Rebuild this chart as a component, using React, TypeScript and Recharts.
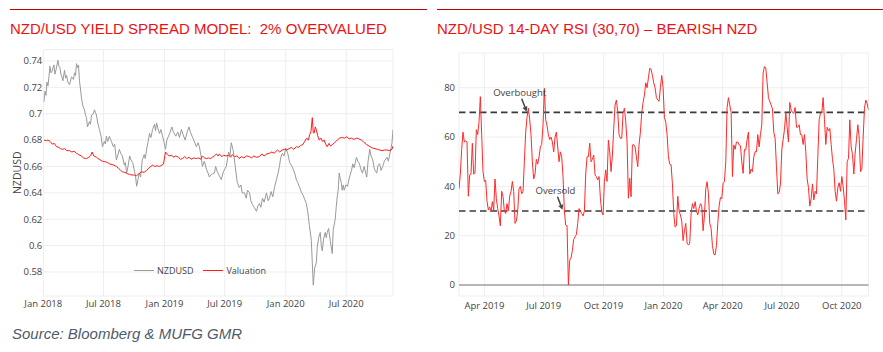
import React from 'react';
import {
  LineChart,
  Line,
  XAxis,
  YAxis,
  CartesianGrid,
  ReferenceLine,
  ReferenceDot,
  Legend,
} from 'recharts';

// ---- left panel: NZDUSD vs yield-spread valuation ----
const nzdusdDates = [
  '2018-01-03', '2018-01-06', '2018-01-09', '2018-01-12', '2018-01-15', '2018-01-18', '2018-01-21', '2018-01-24',
  '2018-01-27', '2018-02-02', '2018-02-05', '2018-02-08', '2018-02-14', '2018-02-17', '2018-02-20', '2018-02-23',
  '2018-02-26', '2018-03-01', '2018-03-06', '2018-03-09', '2018-03-12', '2018-03-16', '2018-03-21', '2018-03-27',
  '2018-04-02', '2018-04-05', '2018-04-08', '2018-04-11', '2018-04-14', '2018-04-17', '2018-04-20', '2018-04-26',
  '2018-04-30', '2018-05-05', '2018-05-08', '2018-05-11', '2018-05-14', '2018-05-20', '2018-05-23', '2018-05-26',
  '2018-06-01', '2018-06-04', '2018-06-07', '2018-06-10', '2018-06-14', '2018-06-19', '2018-06-24', '2018-06-28',
  '2018-07-04', '2018-07-07', '2018-07-10', '2018-07-14', '2018-07-19', '2018-07-22', '2018-07-25', '2018-07-31',
  '2018-08-04', '2018-08-09', '2018-08-13', '2018-08-18', '2018-08-22', '2018-08-27', '2018-09-02', '2018-09-05',
  '2018-09-09', '2018-09-13', '2018-09-18', '2018-09-22', '2018-09-27', '2018-10-03', '2018-10-06', '2018-10-09',
  '2018-10-13', '2018-10-17', '2018-10-21', '2018-10-26', '2018-11-01', '2018-11-04', '2018-11-08', '2018-11-12',
  '2018-11-17', '2018-11-21', '2018-11-26', '2018-12-02', '2018-12-05', '2018-12-08', '2018-12-12', '2018-12-17',
  '2018-12-21', '2018-12-26', '2018-12-30', '2019-01-04', '2019-01-08', '2019-01-13', '2019-01-18', '2019-01-23',
  '2019-01-28', '2019-02-04', '2019-02-10', '2019-02-15', '2019-02-21', '2019-02-26', '2019-03-04', '2019-03-10',
  '2019-03-16', '2019-03-20', '2019-03-25', '2019-03-30', '2019-04-07', '2019-04-12', '2019-04-16', '2019-04-21',
  '2019-04-25', '2019-05-01', '2019-05-07', '2019-05-12', '2019-05-16', '2019-05-22', '2019-05-31', '2019-06-04',
  '2019-06-09', '2019-06-15', '2019-06-21', '2019-06-27', '2019-07-06', '2019-07-13', '2019-07-17', '2019-07-21',
  '2019-07-27', '2019-08-02', '2019-08-08', '2019-08-14', '2019-08-19', '2019-08-23', '2019-08-30', '2019-09-04',
  '2019-09-08', '2019-09-14', '2019-09-18', '2019-09-23', '2019-09-28', '2019-10-05', '2019-10-09', '2019-10-14',
  '2019-10-18', '2019-10-23', '2019-10-28', '2019-11-04', '2019-11-09', '2019-11-13', '2019-11-18', '2019-11-23',
  '2019-11-28', '2019-12-04', '2019-12-09', '2019-12-13', '2019-12-17', '2019-12-22', '2019-12-27', '2020-01-01',
  '2020-01-07', '2020-01-13', '2020-01-20', '2020-01-28', '2020-02-02', '2020-02-06', '2020-02-12', '2020-02-18',
  '2020-02-23', '2020-02-27', '2020-03-03', '2020-03-07', '2020-03-12', '2020-03-18', '2020-03-21', '2020-03-24',
  '2020-03-28', '2020-04-02', '2020-04-05', '2020-04-09', '2020-04-14', '2020-04-17', '2020-04-20', '2020-04-24',
  '2020-04-29', '2020-05-02', '2020-05-05', '2020-05-09', '2020-05-14', '2020-05-20', '2020-05-23', '2020-05-29',
  '2020-06-01', '2020-06-04', '2020-06-07', '2020-06-10', '2020-06-13', '2020-06-16', '2020-06-19', '2020-06-22',
  '2020-06-25', '2020-06-30', '2020-07-05', '2020-07-11', '2020-07-17', '2020-07-21', '2020-07-25', '2020-08-01',
  '2020-08-05', '2020-08-10', '2020-08-14', '2020-08-19', '2020-08-24', '2020-09-01', '2020-09-05', '2020-09-10',
  '2020-09-14', '2020-09-19', '2020-09-24', '2020-10-01', '2020-10-05', '2020-10-10', '2020-10-14', '2020-10-19',
  '2020-10-24', '2020-11-01', '2020-11-05', '2020-11-10', '2020-11-16', '2020-11-19',
];
const nzdusdValues = [
  0.709, 0.717, 0.714, 0.724, 0.721, 0.728, 0.736, 0.731,
  0.732, 0.737, 0.73, 0.733, 0.7405, 0.736, 0.735, 0.73,
  0.728, 0.725, 0.733, 0.727, 0.729, 0.724, 0.722, 0.728,
  0.726, 0.731, 0.729, 0.738, 0.735, 0.737, 0.725, 0.712,
  0.706, 0.703, 0.699, 0.697, 0.69, 0.694, 0.692, 0.699,
  0.7, 0.703, 0.701, 0.699, 0.693, 0.688, 0.683, 0.675,
  0.679, 0.677, 0.683, 0.679, 0.683, 0.681, 0.679, 0.675,
  0.677, 0.665, 0.668, 0.673, 0.67, 0.668, 0.661, 0.663,
  0.655, 0.66, 0.668, 0.665, 0.663, 0.656, 0.652, 0.645,
  0.65, 0.655, 0.652, 0.665, 0.669, 0.666, 0.673, 0.678,
  0.685, 0.682, 0.688, 0.692, 0.687, 0.693, 0.689, 0.685,
  0.688, 0.683, 0.679, 0.673, 0.68, 0.683, 0.686, 0.69,
  0.686, 0.683, 0.686, 0.682, 0.688, 0.684, 0.68, 0.686,
  0.69, 0.686, 0.683, 0.68, 0.675, 0.678, 0.675, 0.668,
  0.66, 0.664, 0.658, 0.655, 0.652, 0.654, 0.655, 0.66,
  0.656, 0.653, 0.65, 0.656, 0.66, 0.671, 0.668, 0.678,
  0.672, 0.66, 0.648, 0.644, 0.646, 0.64, 0.64, 0.636,
  0.642, 0.64, 0.634, 0.631, 0.629, 0.626, 0.63, 0.632,
  0.629, 0.636, 0.633, 0.64, 0.634, 0.636, 0.641, 0.637,
  0.644, 0.65, 0.655, 0.66, 0.667, 0.67, 0.668, 0.674,
  0.67, 0.663, 0.66, 0.655, 0.65, 0.648, 0.644, 0.64,
  0.638, 0.635, 0.632, 0.626, 0.616, 0.604, 0.587, 0.57,
  0.583, 0.587, 0.599, 0.606, 0.61, 0.6, 0.596, 0.605,
  0.61, 0.606, 0.61, 0.613, 0.604, 0.594, 0.612, 0.62,
  0.629, 0.637, 0.642, 0.655, 0.651, 0.648, 0.642, 0.646,
  0.642, 0.646, 0.645, 0.652, 0.657, 0.662, 0.659, 0.667,
  0.664, 0.662, 0.658, 0.655, 0.66, 0.652, 0.664, 0.673,
  0.668, 0.665, 0.658, 0.655, 0.661, 0.662, 0.657, 0.66,
  0.664, 0.667, 0.664, 0.67, 0.678, 0.688,
];

const valuationDates = [
  '2018-01-03', '2018-01-10', '2018-01-15', '2018-01-21', '2018-01-28', '2018-02-03', '2018-02-10', '2018-02-17',
  '2018-02-22', '2018-02-28', '2018-03-06', '2018-03-13', '2018-03-21', '2018-03-28', '2018-04-04', '2018-04-11',
  '2018-04-18', '2018-04-25', '2018-05-02', '2018-05-11', '2018-05-18', '2018-05-24', '2018-05-28', '2018-06-02',
  '2018-06-10', '2018-06-18', '2018-06-28', '2018-07-07', '2018-07-13', '2018-07-19', '2018-07-27', '2018-08-02',
  '2018-08-09', '2018-08-16', '2018-08-22', '2018-08-27', '2018-09-04', '2018-09-11', '2018-09-18', '2018-09-25',
  '2018-10-02', '2018-10-09', '2018-10-16', '2018-10-24', '2018-10-31', '2018-11-08', '2018-11-15', '2018-11-26',
  '2018-12-03', '2018-12-10', '2018-12-17', '2018-12-24', '2018-12-29', '2019-01-04', '2019-01-10', '2019-01-16',
  '2019-01-23', '2019-01-28', '2019-02-04', '2019-02-12', '2019-02-18', '2019-02-24', '2019-03-03', '2019-03-09',
  '2019-03-16', '2019-03-23', '2019-03-30', '2019-04-07', '2019-04-14', '2019-04-20', '2019-04-25', '2019-05-01',
  '2019-05-07', '2019-05-14', '2019-05-20', '2019-05-25', '2019-05-31', '2019-06-06', '2019-06-11', '2019-06-15',
  '2019-06-22', '2019-06-28', '2019-07-06', '2019-07-13', '2019-07-19', '2019-07-24', '2019-07-31', '2019-08-07',
  '2019-08-14', '2019-08-21', '2019-08-28', '2019-09-05', '2019-09-13', '2019-09-20', '2019-09-27', '2019-10-04',
  '2019-10-14', '2019-10-21', '2019-10-28', '2019-11-05', '2019-11-13', '2019-11-20', '2019-11-27', '2019-12-07',
  '2019-12-14', '2019-12-21', '2019-12-28', '2020-01-04', '2020-01-11', '2020-01-18', '2020-01-25', '2020-02-02',
  '2020-02-09', '2020-02-15', '2020-02-21', '2020-02-27', '2020-03-04', '2020-03-09', '2020-03-13', '2020-03-17',
  '2020-03-21', '2020-03-24', '2020-03-27', '2020-03-30', '2020-04-02', '2020-04-06', '2020-04-11', '2020-04-16',
  '2020-04-21', '2020-04-26', '2020-04-30', '2020-05-05', '2020-05-10', '2020-05-15', '2020-05-20', '2020-05-27',
  '2020-06-04', '2020-06-11', '2020-06-19', '2020-06-26', '2020-07-03', '2020-07-10', '2020-07-17', '2020-07-24',
  '2020-08-01', '2020-08-08', '2020-08-16', '2020-08-23', '2020-09-01', '2020-09-08', '2020-09-14', '2020-09-19',
  '2020-09-26', '2020-10-03', '2020-10-10', '2020-10-17', '2020-10-24', '2020-11-01', '2020-11-08', '2020-11-16',
  '2020-11-19',
];
const valuationValues = [
  0.68, 0.6795, 0.68, 0.679, 0.677, 0.6775, 0.675, 0.6745,
  0.6735, 0.673, 0.6735, 0.672, 0.672, 0.671, 0.6715, 0.67,
  0.669, 0.668, 0.6665, 0.666, 0.667, 0.6685, 0.671, 0.668,
  0.667, 0.6655, 0.664, 0.6635, 0.663, 0.662, 0.6615, 0.661,
  0.66, 0.6585, 0.657, 0.656, 0.6555, 0.6545, 0.654, 0.6535,
  0.6535, 0.653, 0.6545, 0.656, 0.6555, 0.657, 0.659, 0.661,
  0.66, 0.6605, 0.66, 0.661, 0.662, 0.671, 0.669, 0.668,
  0.6685, 0.667, 0.668, 0.667, 0.6655, 0.666, 0.6675, 0.666,
  0.667, 0.6655, 0.6665, 0.666, 0.6665, 0.6655, 0.668, 0.6665,
  0.666, 0.6665, 0.666, 0.667, 0.668, 0.6695, 0.668, 0.6695,
  0.6675, 0.6685, 0.668, 0.6685, 0.667, 0.669, 0.6675, 0.668,
  0.666, 0.6675, 0.6665, 0.668, 0.6675, 0.6665, 0.668, 0.667,
  0.6675, 0.6695, 0.668, 0.6695, 0.67, 0.671, 0.67, 0.6725,
  0.671, 0.6725, 0.673, 0.6725, 0.6735, 0.6745, 0.673, 0.675,
  0.6745, 0.676, 0.6765, 0.679, 0.6815, 0.68, 0.684, 0.6865,
  0.697, 0.6855, 0.6855, 0.69, 0.688, 0.6835, 0.68, 0.6815,
  0.679, 0.68, 0.677, 0.675, 0.6775, 0.6755, 0.6765, 0.678,
  0.68, 0.6815, 0.682, 0.6815, 0.6825, 0.681, 0.6815, 0.6805,
  0.6815, 0.681, 0.68, 0.6785, 0.6765, 0.6755, 0.6745, 0.674,
  0.6735, 0.673, 0.6725, 0.672, 0.6725, 0.6725, 0.672, 0.673,
  0.6755,
];

const leftTickDates = ['2018-01-01', '2018-07-01', '2019-01-01', '2019-07-01', '2020-01-01', '2020-07-01'];
const leftTickValues = [0.58, 0.6, 0.62, 0.64, 0.66, 0.68, 0.7, 0.72, 0.74];

// ---- right panel: 14-day RSI, regular samples from 2019-02-21 to 2020-11-11 ----
const rsiStartDate = '2019-02-21';
const rsiEndDate = '2020-11-11';
const rsiValues = [
  39, 45, 55, 62, 58, 58.5, 58, 36, 44.6, 45, 57.5, 45, 45.5, 63, 61, 66, 76.4, 61, 46, 42,
  42.5, 34, 30.4, 31.7, 29.7, 33.8, 30.4, 43, 35, 31, 28, 24, 38, 36, 30, 29, 33, 30, 36, 37.9,
  42, 38, 25, 26, 30, 39, 40, 37, 38, 50, 62, 68, 71.7, 67, 61, 50, 43, 45, 51, 49,
  52, 56, 57, 65, 79.8, 67, 64.6, 61, 59, 60, 58, 54, 60, 62, 56, 50, 54, 52, 44, 30,
  24.3, 24, 0, 10.1, 11, 14, 18.5, 19.6, 20.5, 25, 31, 30, 29, 28, 30, 45, 52, 52, 57.5, 50,
  51, 52.7, 44.6, 44, 42.6, 44, 35.2, 29.7, 28.4, 41.9, 46.7, 42, 58.8, 54, 46, 52.7, 63.6, 73, 75, 70.3,
  61, 59.5, 59.5, 69.6, 71.7, 66.3, 58, 35.2, 43.3, 35.8, 56.8, 57, 56, 52, 48, 57, 62, 70, 74, 77,
  82, 80, 84, 87.9, 87.5, 85, 82, 80, 76, 75, 74.5, 80, 85, 80, 68,
  66, 61, 52, 49, 48.7, 41, 29, 23.5, 24, 36, 30, 28.4, 26, 18, 22, 25, 17, 16.2, 17, 29,
  33, 31, 33.8, 30, 28.4, 31, 33, 32, 22, 28, 39, 41.9, 37, 25, 23, 16, 12.5, 12.2, 16, 25,
  32, 35.5, 35, 41.2, 42, 50, 72, 76, 73, 70, 44, 56.8, 55, 58, 58, 56.8, 56.5, 50, 45.3, 55,
  54.8, 59, 62, 45, 47, 46, 52, 54.1, 54, 61, 56, 61, 65, 86, 88.6, 88, 82, 76, 74.5, 73,
  71.5, 62, 59.5, 48, 37, 37.5, 41, 55, 59, 63, 70, 64, 58, 74, 71, 70, 69.6, 72, 64, 64,
  65, 61, 60.9, 57, 61, 54, 43, 39.5, 32, 35, 41, 34.5, 38, 37, 52, 67, 69.6, 70, 76, 67,
  57, 64, 62.5, 63.5, 57, 51, 47, 38, 34, 39.5, 41.5, 38, 44, 40, 34, 26.4, 50, 51.4, 67, 56,
  53, 45, 53.5, 59, 65, 60, 46, 47, 60, 71.7, 75, 73.5, 71,
];
const rightTickDates = ['2019-04-01', '2019-07-01', '2019-10-01', '2020-01-01', '2020-04-01', '2020-07-01', '2020-10-01'];
const rightTickValues = [0, 20, 40, 60, 80];
const rsiBands = [70, 30];

const noteLabels = ['Overbought', 'Oversold'];
const noteDates = ['2019-06-05', '2019-07-30'];
const noteValues = [70.3, 30.5];

const MONTHS = ['Jan', 'Feb', 'Mar', 'Apr', 'May', 'Jun', 'Jul', 'Aug', 'Sep', 'Oct', 'Nov', 'Dec'];
const toTime = (d: string) => Date.UTC(+d.slice(0, 4), +d.slice(5, 7) - 1, +d.slice(8, 10));
const fmtDate = (t: number) => {
  const d = new Date(t);
  return `${MONTHS[d.getUTCMonth()]} ${d.getUTCFullYear()}`;
};

const nzdusdData = nzdusdDates.map((d, i) => ({ t: toTime(d), v: nzdusdValues[i] }));
const valuationData = valuationDates.map((d, i) => ({ t: toTime(d), v: valuationValues[i] }));
const rsiStart = toTime(rsiStartDate);
const rsiStep = (toTime(rsiEndDate) - rsiStart) / (rsiValues.length - 1);
const rsiData = rsiValues.map((v, i) => ({ t: rsiStart + i * rsiStep, v }));

const TITLE_RED = '#ee1111';
const RULE_RED = '#c00000';
const TICK_FONT = { fontFamily: '"Open Sans", sans-serif', fontSize: 9.5, fill: '#444' };

// plotly-style annotation: text above-left, arrow pointing at the point
const ArrowNote = ({ cx, cy, text }: { cx?: number; cy?: number; text: string }) => {
  if (cx == null || cy == null) return null;
  const tx = cx - 5;
  const ty = cy - 13;
  const len = Math.hypot(cx - tx, cy - ty);
  const ux = (cx - tx) / len;
  const uy = (cy - ty) / len;
  const bx = cx - ux * 5;
  const by = cy - uy * 5;
  return (
    <g>
      <line x1={tx} y1={ty} x2={bx} y2={by} stroke="#444" strokeWidth={1.5} />
      <polygon
        points={`${cx},${cy} ${bx - uy * 2.6},${by + ux * 2.6} ${bx + uy * 2.6},${by - ux * 2.6}`}
        fill="#444"
      />
      <text
        x={cx - 7}
        y={cy - 19.5}
        textAnchor="middle"
        dominantBaseline="central"
        style={{ fontFamily: '"Open Sans", sans-serif', fontSize: 9.5, fill: '#444' }}
      >
        {text}
      </text>
    </g>
  );
};

const ValuationLegend = ({ payload }: any) => (
  <div style={{ display: 'flex', alignItems: 'center', fontFamily: '"Open Sans", sans-serif', fontSize: 9, color: '#444' }}>
    {(payload || []).map((p: any) => (
      <div key={p.value} style={{ display: 'flex', alignItems: 'center', marginRight: 10 }}>
        <div style={{ width: 20, height: 1.5, background: p.color, marginRight: 3 }} />
        <span>{p.value}</span>
      </div>
    ))}
  </div>
);

export default function App() {
  return (
    <div style={{ position: 'absolute', left: 0, top: 0, width: 883, height: 352, background: '#fff', overflow: 'hidden' }}>
      {/* header rules and titles */}
      <div style={{ position: 'absolute', left: 10, top: 9, width: 417, height: 1, background: RULE_RED }} />
      <div style={{ position: 'absolute', left: 437, top: 9, width: 446, height: 1, background: RULE_RED }} />
      <div
        style={{
          position: 'absolute', left: 10, top: 20.6, lineHeight: 1, fontSize: 15, whiteSpace: 'pre',
          fontFamily: '"Liberation Sans", Arial, sans-serif', color: TITLE_RED,
        }}
      >
        {'NZD/USD YIELD SPREAD MODEL:  2% OVERVALUED'}
      </div>
      <div
        style={{
          position: 'absolute', left: 437, top: 20.6, lineHeight: 1, fontSize: 15, whiteSpace: 'pre',
          fontFamily: '"Liberation Sans", Arial, sans-serif', color: TITLE_RED,
        }}
      >
        {'NZD/USD 14-DAY RSI (30,70) – BEARISH NZD'}
      </div>

      {/* left chart */}
      <div style={{ position: 'absolute', left: 0, top: 0 }}>
        <LineChart width={420} height={330} margin={{ top: 49.5, right: 27, left: 10, bottom: 20 }}>
          <CartesianGrid stroke="#eeeeee" strokeWidth={1} />
          <XAxis
            dataKey="t"
            type="number"
            domain={[toTime('2018-01-01'), toTime('2020-11-19')]}
            allowDataOverflow
            ticks={leftTickDates.map(toTime)}
            interval={0}
            tickFormatter={fmtDate}
            axisLine={false}
            tickLine={false}
            tickSize={0}
            tickMargin={4.6}
            height={14}
            tick={TICK_FONT}
          />
          <YAxis
            type="number"
            domain={[0.5618, 0.7487]}
            allowDataOverflow
            ticks={leftTickValues}
            interval={0}
            tickFormatter={(v: number) => String(Number(v.toFixed(2)))}
            axisLine={false}
            tickLine={false}
            tickSize={0}
            tickMargin={1}
            width={33.3}
            tick={TICK_FONT}
            label={{
              content: (props: any) => {
                const vb = props.viewBox || { x: 10, y: 49.5, height: 246.5 };
                const x = vb.x + 7;
                const y = vb.y + vb.height / 2;
                return (
                  <text
                    x={x}
                    y={y}
                    transform={`rotate(-90 ${x} ${y})`}
                    textAnchor="middle"
                    dominantBaseline="central"
                    style={{ fontFamily: '"Open Sans", sans-serif', fontSize: 10.5, fill: '#444' }}
                  >
                    NZDUSD
                  </text>
                );
              },
            }}
          />
          <Line
            data={nzdusdData}
            dataKey="v"
            name="NZDUSD"
            stroke="#999999"
            strokeWidth={1}
            dot={false}
            activeDot={false}
            isAnimationActive={false}
          />
          <Line
            data={valuationData}
            dataKey="v"
            name="Valuation"
            stroke="#ff1a1a"
            strokeWidth={1}
            dot={false}
            activeDot={false}
            isAnimationActive={false}
          />
          <Legend
            verticalAlign="middle"
            align="center"
            layout="horizontal"
            wrapperStyle={{ left: 134, top: 264, width: 180, height: 12 }}
            content={<ValuationLegend />}
          />
        </LineChart>
      </div>

      {/* right chart */}
      <div style={{ position: 'absolute', left: 440, top: 0 }}>
        <LineChart width={443} height={330} margin={{ top: 53, right: 14.5, left: 4, bottom: 20 }}>
          <CartesianGrid stroke="#eeeeee" strokeWidth={1} />
          <XAxis
            dataKey="t"
            type="number"
            domain={[toTime(rsiStartDate), toTime(rsiEndDate)]}
            allowDataOverflow
            ticks={rightTickDates.map(toTime)}
            interval={0}
            tickFormatter={fmtDate}
            axisLine={false}
            tickLine={false}
            tickSize={0}
            tickMargin={6.3}
            height={14}
            tick={TICK_FONT}
          />
          <YAxis
            type="number"
            domain={[-4.46, 94.1]}
            allowDataOverflow
            ticks={rightTickValues}
            interval={0}
            axisLine={false}
            tickLine={false}
            tickSize={0}
            tickMargin={4}
            width={15}
            tick={TICK_FONT}
          />
          <ReferenceLine y={0} stroke="#a0a0a0" strokeWidth={1.5} />
          {rsiBands.map((b) => (
            <ReferenceLine key={b} y={b} stroke="#3a3a3a" strokeWidth={1.6} strokeDasharray="6.5 4" />
          ))}
          <Line
            data={rsiData}
            dataKey="v"
            name="RSI"
            stroke="#ff2a2a"
            strokeWidth={1}
            dot={false}
            activeDot={false}
            isAnimationActive={false}
          />
          {noteLabels.map((label, i) => (
            <ReferenceDot
              key={label}
              x={toTime(noteDates[i])}
              y={noteValues[i]}
              r={0}
              shape={(p: any) => <ArrowNote cx={p.cx} cy={p.cy} text={label} />}
            />
          ))}
        </LineChart>
      </div>

      {/* source */}
      <div
        style={{
          position: 'absolute', left: 12, top: 325.5, lineHeight: 1, fontSize: 15, fontStyle: 'italic',
          fontFamily: '"Liberation Sans", Arial, sans-serif', color: '#4f5b6b',
        }}
      >
        Source: Bloomberg &amp; MUFG GMR
      </div>
    </div>
  );
}
